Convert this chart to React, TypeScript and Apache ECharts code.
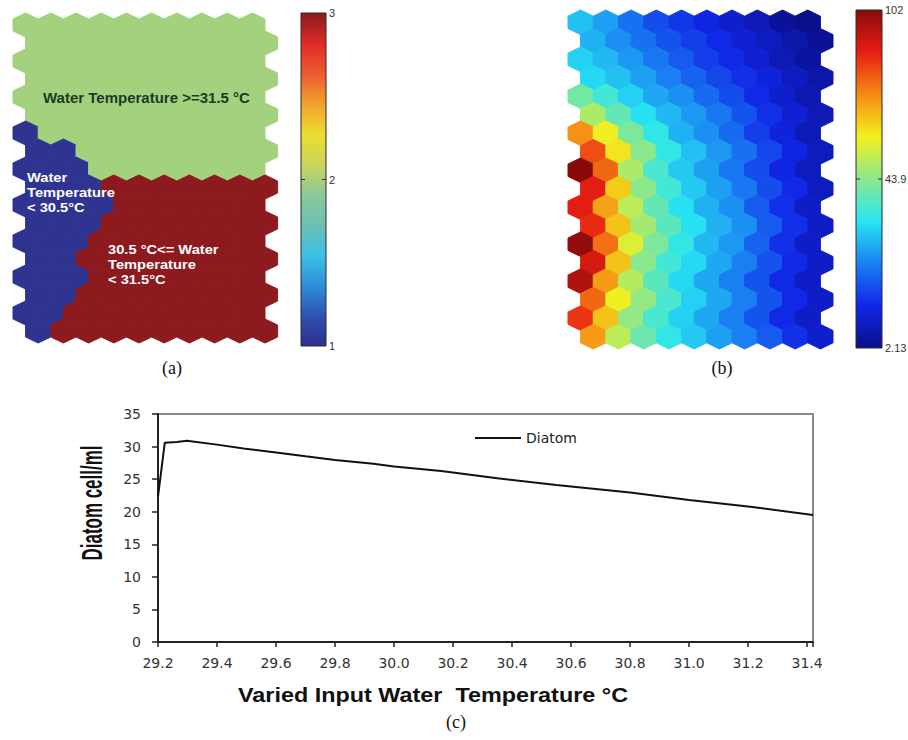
import React, { useEffect, useRef } from "react";
import * as echarts from "echarts";

// ---------- Panel (a): SOM cluster map (1 = <30.5, 2 = >=31.5, 3 = 30.5..31.5) ----------
const clusterRows: number[][] = [
  [2, 2, 2, 2, 2, 2, 2, 2, 2, 2],
  [2, 2, 2, 2, 2, 2, 2, 2, 2, 2],
  [2, 2, 2, 2, 2, 2, 2, 2, 2, 2],
  [2, 2, 2, 2, 2, 2, 2, 2, 2, 2],
  [2, 2, 2, 2, 2, 2, 2, 2, 2, 2],
  [2, 2, 2, 2, 2, 2, 2, 2, 2, 2],
  [1, 2, 2, 2, 2, 2, 2, 2, 2, 2],
  [1, 1, 2, 2, 2, 2, 2, 2, 2, 2],
  [1, 1, 1, 2, 2, 2, 2, 2, 2, 2],
  [1, 1, 1, 3, 3, 3, 3, 3, 3, 3],
  [1, 1, 1, 1, 3, 3, 3, 3, 3, 3],
  [1, 1, 1, 3, 3, 3, 3, 3, 3, 3],
  [1, 1, 1, 3, 3, 3, 3, 3, 3, 3],
  [1, 1, 3, 3, 3, 3, 3, 3, 3, 3],
  [1, 1, 1, 3, 3, 3, 3, 3, 3, 3],
  [1, 1, 3, 3, 3, 3, 3, 3, 3, 3],
  [1, 1, 3, 3, 3, 3, 3, 3, 3, 3],
  [1, 3, 3, 3, 3, 3, 3, 3, 3, 3],
];
const clusterColors = ["#2e3490", "#a4d17e", "#8c1a1e"];
const clusterBarLabels = ["3", "2", "1"];

// ---------- Panel (b): SOM hits / diatom component plane ----------
const hitRows: number[][] = [
  [35, 31, 25, 20, 17, 14, 11, 8, 4, 2.13],
  [33, 29, 25, 21, 18, 15, 12, 9, 6, 4],
  [37, 34, 30, 26, 22, 18, 15, 12, 8, 5],
  [38, 35, 31, 27, 23, 19, 16, 13, 9, 6],
  [49, 43, 37, 32, 29, 24, 20, 15, 11, 7],
  [56, 47, 39, 34, 30, 26, 21, 16, 12, 8],
  [76, 64, 50, 41, 33, 29, 24, 18, 13, 8],
  [84, 66, 52, 41, 35, 30, 25, 19, 14, 9],
  [102, 81, 56, 44, 36, 31, 26, 20, 14, 9],
  [90, 69, 52, 43, 36, 31, 26, 20, 15, 9],
  [90, 74, 58, 47, 39, 33, 29, 22, 16, 10],
  [88, 70, 55, 46, 39, 33, 29, 22, 16, 10],
  [101, 80, 62, 50, 41, 34, 30, 23, 16, 10],
  [92, 70, 52, 43, 38, 32, 27, 21, 15, 10],
  [97, 75, 57, 46, 38, 32, 27, 21, 15, 10],
  [81, 64, 53, 44, 37, 32, 27, 21, 15, 10],
  [87, 70, 53, 44, 37, 32, 27, 21, 15, 10],
  [75, 58, 48, 41, 36, 31, 27, 22, 16, 11],
];
const hitMin = 2.13;
const hitMax = 102;
const hitBarLabels = ["102", "43.9", "2.13"];
const jetColors = [
  "#0a0f8c", "#1026e6", "#1a80f2", "#28e6f2", "#8ce88c",
  "#f2f01e", "#f58a14", "#e81e12", "#8a0a0a",
];
const clusterBarColors = [
  "#2b2f8c", "#2f52b0", "#2f8fd8", "#3cc0e6", "#6cc0b4",
  "#8cc89a", "#c8d858", "#ecdc30", "#f2a02e", "#ec5a30", "#e02a28", "#8a1a1e",
];

// ---------- Panel (c): diatom response ----------
const tempX = [29.2, 29.223, 29.264, 29.298, 29.4, 29.49, 29.6, 29.7, 29.8, 29.93, 30.0, 30.16, 30.35, 30.55, 30.8, 31.0, 31.2, 31.42];
const diatomY = [22.3, 30.6, 30.7, 30.9, 30.3, 29.7, 29.1, 28.5, 27.95, 27.35, 26.95, 26.25, 25.15, 24.1, 22.95, 21.8, 20.8, 19.5];

const toHexData = (rows: number[][]) =>
  rows.flatMap((r, ri) => r.map((v, ci) => [ci, ri, v]));

const hexRender = (_params: any, api: any) => {
  const col = api.value(0);
  const row = api.value(1);
  const shift = row % 2 === 1 ? 0.5 : 0;
  const c = api.coord([col + shift, row]);
  const size = api.size([1, 1]);
  const hw = Math.abs(size[0]) / 2;
  const s = Math.abs(size[1]);
  const a = (s * 2) / 3;
  const b = s / 3;
  const color = api.visual("color");
  return {
    type: "polygon",
    shape: {
      points: [
        [c[0], c[1] - a],
        [c[0] + hw, c[1] - b],
        [c[0] + hw, c[1] + b],
        [c[0], c[1] + a],
        [c[0] - hw, c[1] + b],
        [c[0] - hw, c[1] - b],
      ],
    },
    style: { fill: color, stroke: color, lineWidth: 1, opacity: 1 },
  };
};

const gradient = (colorsBottomToTop: string[]) =>
  new echarts.graphic.LinearGradient(
    0, 0, 0, 1,
    colorsBottomToTop
      .slice()
      .reverse()
      .map((c, i, arr) => ({ offset: i / (arr.length - 1), color: c }))
  );

const SANS = "Liberation Sans, Arial, sans-serif";
const SERIF = "Liberation Serif, Times New Roman, serif";

const txt = (text: string, x: number, y: number, font: string, fill: string, align = "left", extra: any = {}) => ({
  type: "text",
  x,
  y,
  z: 100,
  silent: true,
  ...extra,
  style: { text, font, fill, align, verticalAlign: "middle", lineHeight: extra.lineHeight },
});

export default function App() {
  const ref = useRef<HTMLDivElement>(null);

  useEffect(() => {
    document.body.style.margin = "0";
    const chart = echarts.init(ref.current!, null, { renderer: "svg", width: 908, height: 740 });

    const barA = { x: 301, y: 13, w: 25, h: 333 };
    const barB = { x: 856, y: 10, w: 26, h: 338 };

    const colorbar = (bar: any, colors: string[], labels: string[]) => [
      {
        type: "rect",
        z: 100,
        shape: { x: bar.x, y: bar.y, width: bar.w, height: bar.h },
        style: { fill: gradient(colors), stroke: "#2a2a2a", lineWidth: 1 },
      },
      {
        type: "line",
        z: 101,
        shape: { x1: bar.x, y1: bar.y + bar.h / 2, x2: bar.x + 4, y2: bar.y + bar.h / 2 },
        style: { stroke: "#333", lineWidth: 1 },
      },
      {
        type: "line",
        z: 101,
        shape: { x1: bar.x + bar.w - 4, y1: bar.y + bar.h / 2, x2: bar.x + bar.w, y2: bar.y + bar.h / 2 },
        style: { stroke: "#333", lineWidth: 1 },
      },
      ...labels.map((l, i) =>
        txt(l, bar.x + bar.w + 3, bar.y + (bar.h * i) / (labels.length - 1), `11px ${SANS}`, "#333")
      ),
    ];

    const regionFont = `bold 13px ${SANS}`;
    const option: any = {
      animation: false,
      backgroundColor: "#fff",
      grid: [
        { left: 13, top: 13, width: 264.6, height: 330 },
        { left: 568, top: 10, width: 265, height: 339 },
        {
          left: 158, top: 414, width: 655, height: 228,
          show: true, borderColor: "#8a8a8a", borderWidth: 2, backgroundColor: "transparent",
        },
      ],
      xAxis: [
        { gridIndex: 0, type: "value", min: -0.5, max: 10, show: false },
        { gridIndex: 1, type: "value", min: -0.5, max: 10, show: false },
        {
          gridIndex: 2, type: "value", min: 29.2, max: 31.42, interval: 0.2,
          axisLine: { lineStyle: { color: "#222", width: 2 } },
          axisTick: { length: 5, lineStyle: { color: "#222", width: 1.5 } },
          splitLine: { show: false },
          axisLabel: {
            margin: 14,
            color: "#333",
            fontFamily: "DejaVu Sans",
            fontSize: 14,
            formatter: (v: number) => (Math.abs(v * 5 - Math.round(v * 5)) > 0.01 ? "" : v.toFixed(1)),
          },
        },
      ],
      yAxis: [
        { gridIndex: 0, type: "value", min: -2 / 3, max: 17 + 2 / 3, inverse: true, show: false },
        { gridIndex: 1, type: "value", min: -2 / 3, max: 17 + 2 / 3, inverse: true, show: false },
        {
          gridIndex: 2, type: "value", min: 0, max: 35, interval: 5,
          axisLine: { show: true, lineStyle: { color: "#222", width: 2 } },
          axisTick: { show: true, length: 6, lineStyle: { color: "#222", width: 1.5 } },
          splitLine: { show: false },
          axisLabel: { margin: 17, color: "#333", fontFamily: "DejaVu Sans", fontSize: 14 },
        },
      ],
      visualMap: [
        {
          type: "piecewise", show: false, seriesIndex: 0, dimension: 2,
          pieces: clusterColors.map((c, i) => ({ value: i + 1, color: c })),
        },
        {
          type: "continuous", show: false, seriesIndex: 1, dimension: 2,
          min: hitMin, max: hitMax, inRange: { color: jetColors },
        },
      ],
      legend: {
        data: [{ name: "Diatom", icon: "rect" }],
        left: 475,
        top: 431,
        padding: 0,
        itemWidth: 46,
        itemHeight: 2,
        itemGap: 5,
        textStyle: { fontFamily: "DejaVu Sans", fontSize: 14, color: "#222" },
      },
      series: [
        {
          type: "custom", xAxisIndex: 0, yAxisIndex: 0, renderItem: hexRender,
          encode: { x: 0, y: 1 }, data: toHexData(clusterRows), silent: true,
        },
        {
          type: "custom", xAxisIndex: 1, yAxisIndex: 1, renderItem: hexRender,
          encode: { x: 0, y: 1 }, data: toHexData(hitRows), silent: true,
        },
        {
          name: "Diatom", type: "line", xAxisIndex: 2, yAxisIndex: 2,
          data: tempX.map((x, i) => [x, diatomY[i]]),
          symbol: "none",
          itemStyle: { color: "#111" },
          lineStyle: { color: "#111", width: 2 },
        },
      ],
      graphic: [
        ...colorbar(barA, clusterBarColors, clusterBarLabels),
        ...colorbar(barB, jetColors, hitBarLabels),
        txt("Water Temperature >=31.5 °C", 43, 97, `bold 15px ${SANS}`, "#1c3a24"),
        txt("Water", 27, 177, regionFont, "#ffffff", "left", { scaleX: 1.13 }),
        txt("Temperature", 27, 192, regionFont, "#ffffff", "left", { scaleX: 1.13 }),
        txt("< 30.5°C", 27, 207, regionFont, "#ffffff", "left", { scaleX: 1.13 }),
        txt("30.5 °C<= Water", 108, 249, regionFont, "#ffffff", "left", { scaleX: 1.13 }),
        txt("Temperature", 108, 264, regionFont, "#ffffff", "left", { scaleX: 1.13 }),
        txt("< 31.5°C", 108, 279, regionFont, "#ffffff", "left", { scaleX: 1.13 }),
        txt("(a)", 172, 368, `18px ${SERIF}`, "#111", "center"),
        txt("(b)", 722, 368, `18px ${SERIF}`, "#111", "center"),
        txt("(c)", 456, 722, `18px ${SERIF}`, "#111", "center"),
        txt("Varied Input Water  Temperature °C", 433, 695, `bold 20px ${SANS}`, "#111", "center", {
          scaleX: 1.17,
        }),
        txt("Diatom cell/ml", 92, 503, `bold 30px ${SANS}`, "#111", "center", {
          rotation: Math.PI / 2,
          scaleX: 0.565,
        }),
      ],
    };

    chart.setOption(option);
    return () => chart.dispose();
  }, []);

  return <div ref={ref} style={{ width: 908, height: 740 }} />;
}
